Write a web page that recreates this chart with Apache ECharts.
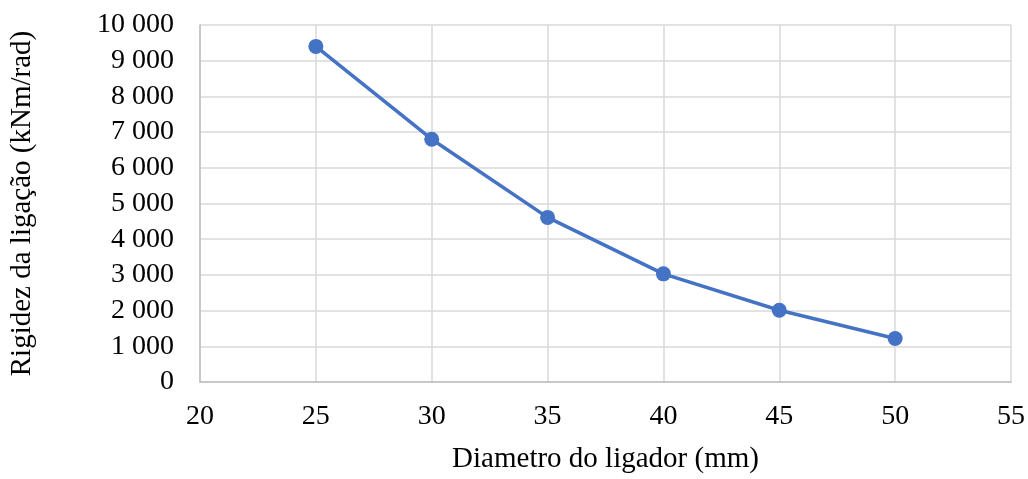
<!DOCTYPE html>
<html>
<head>
<meta charset="utf-8">
<script src="https://cdn.jsdelivr.net/npm/echarts@6/dist/echarts.min.js"></script>
<style>
  html, body { margin: 0; padding: 0; background: #ffffff; }
  #chart { width: 1028px; height: 479px; }
</style>
</head>
<body>
<div id="chart"></div>
<script>
// Connection stiffness versus connector diameter
const diameters = [25, 30, 35, 40, 45, 50];
const stiffness = [9400, 6800, 4610, 3030, 2010, 1220];

const xAxisName = 'Diametro do ligador (mm)';
const yAxisName = 'Rigidez da ligação (kNm/rad)';

const fontFamily = '"Liberation Serif", "Times New Roman", serif';

// Thousands separated by a space: 10 000
function formatThousands(v) {
  return String(v).replace(/\B(?=(\d{3})+(?!\d))/g, ' ');
}

const chart = echarts.init(document.getElementById('chart'));
chart.setOption({
  animation: false,
  backgroundColor: '#ffffff',
  grid: { left: 198, right: 16, top: 25, bottom: 92, containLabel: false },
  xAxis: {
    type: 'value',
    min: 20, max: 55, interval: 5,
    name: xAxisName,
    nameLocation: 'middle',
    nameGap: 63,
    nameTextStyle: { fontFamily, fontSize: 29, color: '#000' },
    axisLine: { show: true, lineStyle: { color: '#bfbfbf', width: 1.5 } },
    axisTick: { show: false },
    axisLabel: { fontFamily, fontSize: 28, color: '#000', margin: 21 },
    splitLine: { show: true, lineStyle: { color: '#d9d9d9', width: 1.5 } }
  },
  yAxis: {
    type: 'value',
    min: 0, max: 10000, interval: 1000,
    name: yAxisName,
    nameLocation: 'middle',
    nameGap: 163,
    nameTextStyle: { fontFamily, fontSize: 29, color: '#000' },
    axisLine: { show: true, lineStyle: { color: '#bfbfbf', width: 1.5 } },
    axisTick: { show: false },
    axisLabel: { fontFamily, fontSize: 28, color: '#000', margin: 26, formatter: formatThousands },
    splitLine: { show: true, lineStyle: { color: '#d9d9d9', width: 1.5 } }
  },
  series: [{
    type: 'line',
    data: diameters.map((d, i) => [d, stiffness[i]]),
    symbol: 'circle',
    symbolSize: 15,
    itemStyle: { color: '#4472C4' },
    lineStyle: { color: '#4472C4', width: 3.5 }
  }]
});
</script>
</body>
</html>
